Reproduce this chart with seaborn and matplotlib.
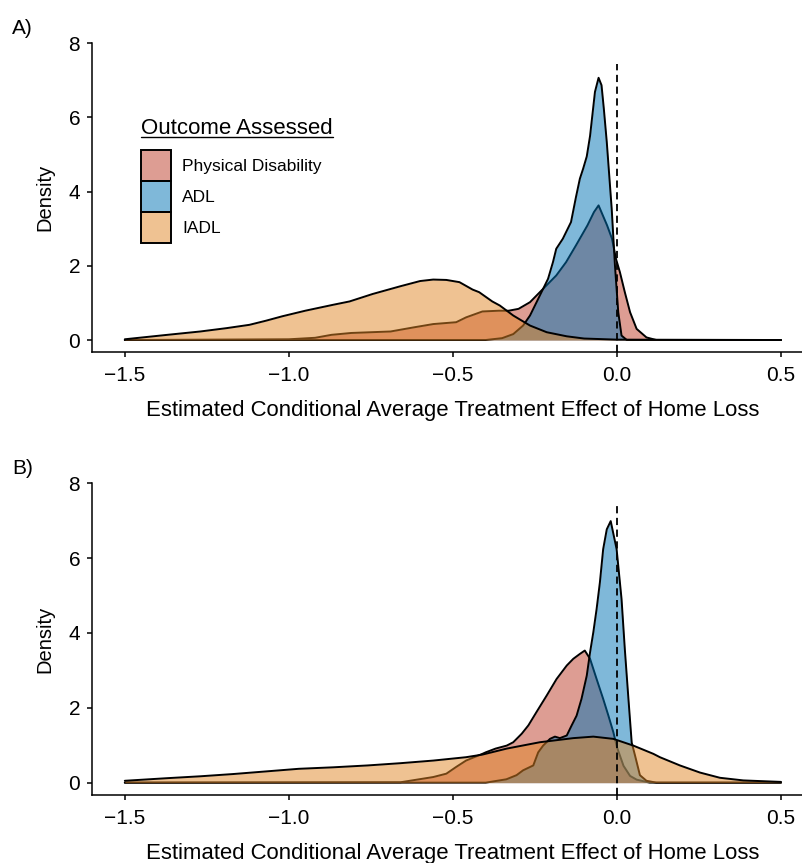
import matplotlib
matplotlib.use("Agg")
import matplotlib.pyplot as plt
from matplotlib.patches import Patch
from matplotlib.lines import Line2D
from matplotlib.colors import to_rgba
import pandas as pd
import seaborn as sns

# outcome groups and colours (ggsci NEJM palette, drawn at alpha 0.5)
outcomes = ["Physical Disability", "ADL", "IADL"]
colors = ["#BC3C29", "#0072B5", "#E18727"]

# ---- panel A: density curves ----
a_phys_x = [-1.5, -1.0, -0.92, -0.87, -0.81, -0.69, -0.62, -0.56, -0.49, -0.46, -0.41,
            -0.36, -0.33, -0.30, -0.265, -0.235, -0.215, -0.185, -0.155, -0.125, -0.09,
            -0.07, -0.056, -0.03, -0.015, -0.003, 0.009, 0.024, 0.04, 0.06, 0.09, 0.12, 0.5]
a_phys_y = [0.0, 0.02, 0.06, 0.14, 0.19, 0.23, 0.34, 0.43, 0.48, 0.61, 0.77,
            0.79, 0.79, 0.84, 1.02, 1.29, 1.47, 1.74, 2.10, 2.55, 3.09,
            3.45, 3.63, 3.09, 2.73, 2.19, 1.83, 1.29, 0.75, 0.30, 0.07, 0.0, 0.0]

a_adl_x = [-1.5, -0.40, -0.35, -0.316, -0.286, -0.265, -0.245, -0.225, -0.21, -0.195,
           -0.185, -0.165, -0.14, -0.125, -0.113, -0.103, -0.092, -0.082, -0.067, -0.056,
           -0.047, -0.04, -0.031, -0.016, -0.006, 0.004, 0.014, 0.03, 0.5]
a_adl_y = [0.0, 0.0, 0.05, 0.16, 0.39, 0.66, 1.02, 1.38, 1.65, 2.10,
           2.46, 2.73, 3.18, 3.85, 4.35, 4.62, 4.95, 5.50, 6.69, 7.07,
           6.87, 6.24, 5.34, 3.54, 2.00, 0.75, 0.12, 0.0, 0.0]

a_iadl_x = [-1.5, -1.37, -1.27, -1.19, -1.12, -1.07, -1.02, -0.95, -0.865, -0.815, -0.745,
            -0.66, -0.60, -0.56, -0.52, -0.48, -0.44, -0.42, -0.38, -0.357, -0.316, -0.265,
            -0.214, -0.153, -0.10, 0.0, 0.5]
a_iadl_y = [0.02, 0.14, 0.23, 0.32, 0.41, 0.52, 0.64, 0.79, 0.95, 1.04, 1.24,
            1.45, 1.59, 1.63, 1.62, 1.56, 1.36, 1.29, 1.04, 0.93, 0.66, 0.39,
            0.21, 0.10, 0.04, 0.01, 0.0]

# ---- panel B ----
b_phys_x = [-1.5, -0.66, -0.61, -0.56, -0.52, -0.49, -0.46, -0.41, -0.40, -0.37, -0.336,
            -0.316, -0.29, -0.27, -0.245, -0.214, -0.184, -0.153, -0.133, -0.113, -0.098,
            -0.082, -0.062, -0.042, -0.026, -0.011, 0.0, 0.02, 0.04, 0.06, 0.10, 0.5]
b_phys_y = [0.0, 0.01, 0.08, 0.15, 0.24, 0.42, 0.59, 0.77, 0.81, 0.91, 0.99,
            1.08, 1.31, 1.53, 1.89, 2.33, 2.77, 3.13, 3.31, 3.44, 3.53,
            3.31, 2.77, 2.24, 1.79, 1.35, 0.95, 0.45, 0.18, 0.08, 0.0, 0.0]

b_adl_x = [-1.5, -0.40, -0.337, -0.306, -0.286, -0.255, -0.24, -0.225, -0.204, -0.189,
           -0.174, -0.153, -0.138, -0.123, -0.108, -0.092, -0.082, -0.072, -0.062, -0.052,
           -0.042, -0.031, -0.019, -0.001, 0.014, 0.024, 0.035, 0.045, 0.055, 0.07, 0.09,
           0.12, 0.5]
b_adl_y = [0.0, 0.0, 0.09, 0.20, 0.33, 0.46, 0.81, 0.99, 1.17, 1.23,
           1.19, 1.26, 1.53, 1.79, 2.24, 2.86, 3.48, 4.02, 4.64, 5.35,
           6.24, 6.77, 6.99, 6.24, 4.91, 3.57, 2.24, 1.07, 0.73, 0.20, 0.05,
           0.0, 0.0]

b_iadl_x = [-1.5, -1.37, -1.27, -1.17, -1.07, -0.97, -0.865, -0.76, -0.66, -0.56, -0.46,
            -0.41, -0.336, -0.235, -0.133, -0.072, -0.011, 0.05, 0.111, 0.131, 0.192,
            0.253, 0.314, 0.385, 0.5]
b_iadl_y = [0.05, 0.12, 0.17, 0.23, 0.30, 0.37, 0.41, 0.46, 0.52, 0.59, 0.68,
            0.75, 0.91, 1.08, 1.19, 1.23, 1.17, 0.99, 0.77, 0.68, 0.46,
            0.27, 0.13, 0.06, 0.02]

x_ticks = [-1.5, -1.0, -0.5, 0.0, 0.5]
x_ticklabels = ["\u22121.5", "\u22121.0", "\u22120.5", "0.0", "0.5"]
y_ticks = [0, 2, 4, 6, 8]
ref_x = 0.0
ref_top = 7.45


def to_long(curves):
    frames = []
    for name, (xs, ys) in zip(outcomes, curves):
        frames.append(pd.DataFrame({"x": xs, "density": ys, "outcome": name}))
    return pd.concat(frames, ignore_index=True)


panel_a = to_long([(a_phys_x, a_phys_y), (a_adl_x, a_adl_y), (a_iadl_x, a_iadl_y)])
panel_b = to_long([(b_phys_x, b_phys_y), (b_adl_x, b_adl_y), (b_iadl_x, b_iadl_y)])

sns.set_style("ticks")
plt.rcParams["font.family"] = ["Liberation Sans", "DejaVu Sans"]
plt.rcParams["text.color"] = "black"
plt.rcParams["axes.labelcolor"] = "black"

W, H = 802, 863
fig = plt.figure(figsize=(W / 100, H / 100), dpi=100)
ax_a = fig.add_axes([92 / W, 1 - 351.7 / H, 721.8 / W, 308.4 / H])
ax_b = fig.add_axes([92 / W, 1 - 795 / H, 721.8 / W, 311.7 / H])


def draw_panel(ax, df, ylow):
    for i, (name, col) in enumerate(zip(outcomes, colors)):
        sub = df[df["outcome"] == name]
        ax.fill_between(sub["x"], 0, sub["density"], color=col, alpha=0.5,
                        linewidth=0, zorder=2 + 2 * i)
        sns.lineplot(data=sub, x="x", y="density", color="black", linewidth=1.4,
                     estimator=None, sort=False, ax=ax, zorder=3 + 2 * i)
    ax.plot([ref_x, ref_x], [ylow, ref_top], color="black", linestyle=(0, (4, 2.5)),
            linewidth=1.3, zorder=10)
    ax.set_xlim(-1.6, 0.6)
    ax.set_ylim(ylow, 8)
    ax.set_xticks(x_ticks)
    ax.set_xticklabels(x_ticklabels)
    ax.set_yticks(y_ticks)
    ax.tick_params(axis="both", labelsize=15, length=3.5, width=1.1, color="black",
                   labelcolor="black")
    ax.tick_params(axis="x", pad=6.5)
    ax.tick_params(axis="y", pad=5)
    for side in ["top", "right"]:
        ax.spines[side].set_visible(False)
    for side in ["left", "bottom"]:
        ax.spines[side].set_linewidth(1.1)
        ax.spines[side].set_color("black")
    ax.set_xlabel("Estimated Conditional Average Treatment Effect of Home Loss",
                  fontsize=15.9, labelpad=11)
    ax.set_ylabel("Density", fontsize=14.5, labelpad=10)
    ax.grid(False)


draw_panel(ax_a, panel_a, -0.315)
draw_panel(ax_b, panel_b, -0.33)

fig.text(12 / W, 1 - 28 / H, "A)", fontsize=15, va="center", ha="left")
fig.text(12 / W, 1 - 468 / H, "B)", fontsize=15, va="center", ha="left")

# legend (panel A)
handles = [Patch(facecolor=to_rgba(c, 0.5), edgecolor="black", linewidth=1.4)
           for c in colors]
leg = ax_a.legend(handles, outcomes, loc="upper left",
                  bbox_to_anchor=(141 / W, 1 - 150 / H), bbox_transform=fig.transFigure,
                  frameon=False, fontsize=12.5, borderpad=0, borderaxespad=0,
                  labelspacing=0, handlelength=1.72, handleheight=2.36, handletextpad=0.65)
title = fig.text(141 / W, 1 - 128 / H, "Outcome Assessed", fontsize=16,
                 va="center", ha="left")
fig.canvas.draw()
bb = title.get_window_extent().transformed(fig.transFigure.inverted())
fig.add_artist(Line2D([bb.x0, bb.x1], [1 - 137 / H, 1 - 137 / H], color="black",
                      linewidth=1.0, transform=fig.transFigure))

fig.savefig("out.png", dpi=100)
